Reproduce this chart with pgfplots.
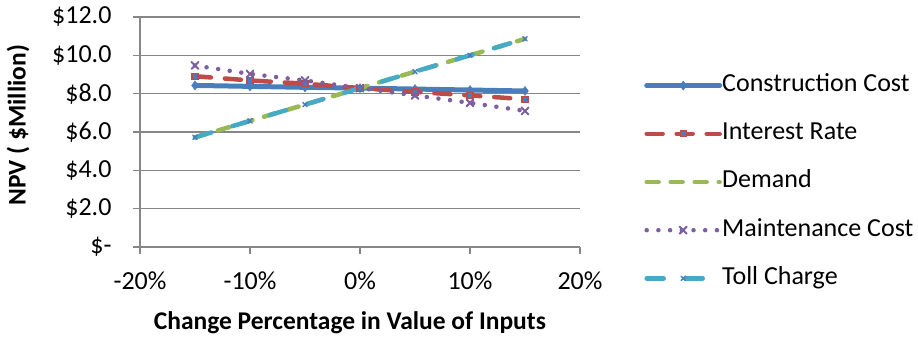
\documentclass[border=0pt]{standalone}
\usepackage{pgfplots}
\pgfplotsset{compat=1.18}
\usepackage{fontspec}
\setmainfont{Carlito}
\definecolor{cblue}{HTML}{4A7EBB}
\definecolor{cred}{HTML}{BE4B48}
\definecolor{cgreen}{HTML}{98B954}
\definecolor{cpurple}{HTML}{7D5FA0}
\definecolor{ccyan}{HTML}{46AAC5}
\definecolor{cgray}{HTML}{868686}
\begin{document}
\begin{tikzpicture}
\begin{axis}[
  scale only axis,
  width=440pt, height=230pt,
  xmin=-20, xmax=20, ymin=0, ymax=12,
  xtick={-20,-10,0,10,20},
  xticklabels={-20\%,-10\%,0\%,10\%,20\%},
  ytick={0,2,4,6,8,10,12},
  yticklabels={\$-,\$2.0,\$4.0,\$6.0,\$8.0,\$10.0,\$12.0},
  /pgf/number format/assume math mode=true,
  axis x line*=bottom, axis y line*=left,
  axis line style={cgray, line width=1.5pt, -},
  tick style={cgray, line width=1.5pt},
  tick align=outside, major tick length=7pt,
  ymajorgrids, grid style={cgray, line width=1.5pt},
  ticklabel style={font=\fontsize{26}{30}\selectfont, text=black},
  xticklabel style={yshift=-14pt},
  yticklabel style={xshift=-18pt},
  xlabel={\bfseries Change Percentage in Value of Inputs},
  ylabel={\bfseries NPV ( \$Million)},
  every axis x label/.style={at={(axis description cs:0.477,0)}, anchor=center, yshift=-76pt, font=\fontsize{25.5}{29}\selectfont},
  every axis y label/.style={at={(axis description cs:0,0.53)}, anchor=center, xshift=-122pt, rotate=90, font=\fontsize{25.5}{29}\selectfont},
  legend style={at={(1,0.2957)}, anchor=west, xshift=64pt, yshift=-3pt, draw=none, fill=none, inner sep=0pt,
    font=\fontsize{26}{30}\selectfont, row sep=24.2pt,
    nodes={inner sep=0pt, text height=18pt, text depth=6pt}},
  legend cell align=left,
  /tikz/every even column/.append style={column sep=5pt},
  legend image code/.code={\draw[#1, mark repeat=2, mark phase=2] plot coordinates {(0pt,0pt) (36.5pt,0pt) (73pt,0pt)};},
  clip=false,
]
\coordinate (O) at (rel axis cs:0,0);
\addplot[cblue, line width=5pt, line cap=round, solid,
  mark=diamond*, mark size=4.5pt, mark options={solid, line width=0.5pt, cblue}]
  coordinates {(-15,8.43) (-10,8.38) (-5,8.33) (0,8.29) (5,8.24) (10,8.19) (15,8.14)};
\addlegendentry{Construction Cost}
\addplot[cred, line width=4.5pt, line cap=round, dash pattern=on 16pt off 14pt,
  mark=square*, mark size=3pt, mark options={solid, line width=1.2pt, draw=cred, fill=cblue}]
  coordinates {(-15,8.91) (-10,8.69) (-5,8.52) (0,8.29) (5,8.09) (10,7.91) (15,7.71)};
\addlegendentry{Interest Rate}
\addplot[cgreen, line width=4.5pt, line cap=round, dash pattern=on 12pt off 12pt, mark=none]
  coordinates {(-15,5.72) (-10,6.58) (-5,7.43) (0,8.29) (5,9.15) (10,10.00) (15,10.86)};
\addlegendentry{Demand}
\addplot[cpurple, line width=4.5pt, line cap=round, dash pattern=on 0pt off 11.7pt,
  mark=x, mark size=5pt, mark options={solid, line width=2pt, cpurple}]
  coordinates {(-15,9.47) (-10,9.03) (-5,8.69) (0,8.29) (5,7.91) (10,7.52) (15,7.10)};
\addlegendentry{Maintenance Cost}
\addplot[ccyan, line width=4.5pt, line cap=round, dash pattern=on 17pt off 22pt,
  mark=x, mark size=3pt, mark options={solid, line width=1.5pt, cblue}]
  coordinates {(-15,5.72) (-10,6.58) (-5,7.43) (0,8.29) (5,9.15) (10,10.00) (15,10.86)};
\addlegendentry{Toll Charge}
\end{axis}
\pgfresetboundingbox
\path[use as bounding box] (O) ++(-140pt,-92pt) rectangle ++(918pt,339pt);
\end{tikzpicture}
\end{document}
